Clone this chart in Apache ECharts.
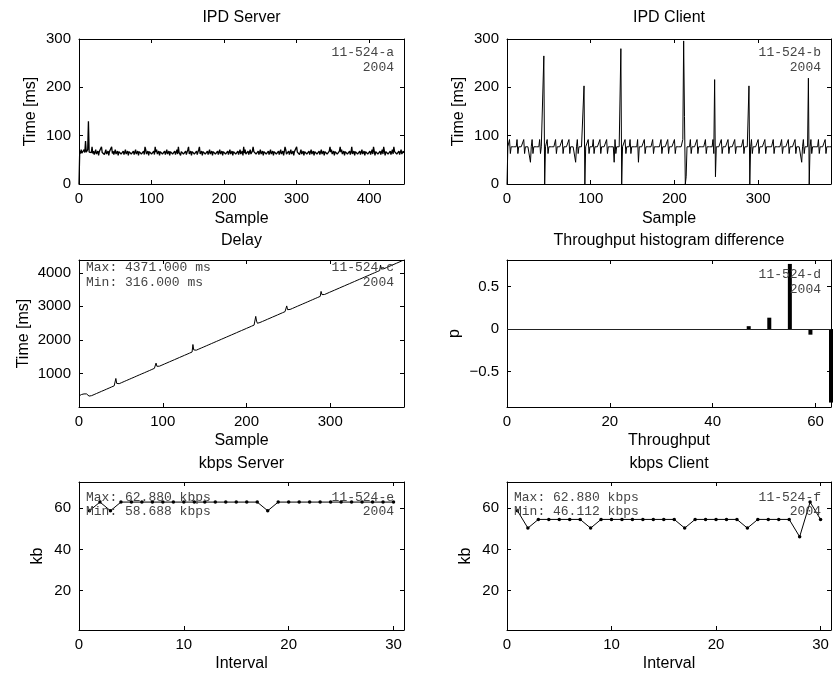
<!DOCTYPE html>
<html><head><meta charset="utf-8">
<script src="https://cdn.jsdelivr.net/npm/echarts@6/dist/echarts.min.js"></script>
<style>html,body{margin:0;padding:0;background:#fff}#c{width:835px;height:677px}</style>
</head><body><div id="c"></div>
<script>
// ---------- data ----------
const panelTitles = ['IPD Server', 'IPD Client', 'Delay', 'Throughput histogram difference', 'kbps Server', 'kbps Client'];
const panelIds = ['11-524-a', '11-524-b', '11-524-c', '11-524-d', '11-524-e', '11-524-f'];
const yearLabel = '2004';

const serverIPD = [
0,68,63,71,64,67,62,71,65,89,66,62,71,130,66,65,65,65,77,63,
68,61,66,71,62,65,68,59,67,64,71,77,65,63,68,61,66,71,62,65,
68,59,67,64,71,77,63,68,61,66,71,62,65,68,59,67,64,71,62,66,
63,68,61,66,71,62,65,68,59,67,64,71,62,66,63,68,61,66,71,62,
65,68,59,67,64,71,62,66,63,68,61,77,71,62,65,68,59,67,64,71,
62,66,63,68,61,77,66,71,62,65,68,59,67,64,71,62,66,63,68,61,
66,71,62,65,68,59,67,64,71,62,66,63,68,61,66,71,62,77,65,68,
59,67,64,71,62,66,63,68,61,66,71,77,62,65,68,59,67,64,71,62,
66,63,68,61,66,71,77,62,65,68,59,67,64,71,62,66,63,68,61,66,
71,62,65,68,59,67,64,71,62,66,63,68,61,66,71,62,65,68,59,67,
64,71,62,66,63,68,61,66,71,62,65,68,59,67,64,71,62,66,63,68,
61,66,71,62,65,68,59,77,64,71,62,66,63,68,61,66,71,62,65,68,
77,67,64,71,62,66,63,68,61,66,71,62,65,68,59,67,64,71,62,66,
63,68,61,66,71,62,65,68,59,67,64,71,62,66,63,68,61,66,71,62,
65,68,59,67,77,71,62,66,63,68,61,66,71,62,65,68,59,67,64,71,
77,66,63,68,61,66,71,62,65,68,59,67,64,71,62,66,63,68,61,66,
71,62,65,68,59,67,64,71,62,66,63,68,61,66,71,62,65,68,59,67,
64,71,62,66,63,68,77,66,71,62,65,68,59,67,64,71,62,66,63,68,
77,66,71,62,65,68,59,67,64,71,62,66,63,68,61,66,77,62,65,68,
59,67,64,71,62,66,63,68,61,66,71,62,65,68,59,67,64,71,62,66,
63,68,61,66,71,62,77,68,59,67,64,71,62,66,63,68,61,66,71,62,
77,68,59,67,64,71,62,66,63,68,61,66,71,62,77,67,64,71,62,66,
63,68,61,66,71,62,65,68,64];

const clientIPD = [
0,77,77,92,63,77,77,77,77,
77,77,77,92,63,77,77,77,77,
77,77,92,63,77,77,77,77,77,
77,45,77,92,63,77,77,77,77,
77,77,77,92,63,77,77,77,265,
0,77,77,92,63,77,77,77,77,
77,77,77,77,92,63,77,77,77,
77,77,77,92,63,77,77,77,77,
77,77,92,63,77,77,77,77,77,
77,45,77,92,63,77,77,77,77,
77,77,203,0,77,77,77,92,63,
77,77,77,77,92,63,77,77,77,
77,77,77,92,63,77,77,77,77,
77,77,92,63,77,77,77,77,77,
77,77,45,92,63,77,77,77,77,
77,280,0,77,77,77,92,63,77,
77,77,77,92,63,77,77,77,77,
77,77,77,92,45,77,77,77,77,
77,77,92,63,77,77,77,77,77,
77,77,77,92,63,77,77,77,77,
77,77,77,77,92,63,77,77,77,
77,77,77,92,63,77,77,77,77,
77,77,92,63,77,77,77,77,77,
77,77,77,92,296,140,0,15,77,
77,77,77,92,63,77,77,77,77,
77,77,92,63,77,77,77,77,77,
77,77,77,92,63,77,77,77,77,
77,77,77,92,63,216,15,77,77,
77,77,77,77,92,63,77,77,77,
77,77,77,92,63,77,77,77,77,
77,77,92,63,77,77,77,77,77,
77,77,77,92,63,77,77,77,77,
77,203,0,77,92,63,77,77,77,
77,77,77,92,63,77,77,77,77,
77,77,92,63,77,77,77,77,77,
77,77,77,92,63,77,77,77,77,
77,77,77,77,92,63,77,77,77,
77,77,77,92,63,77,77,77,77,
77,77,92,63,77,77,77,77,77,
77,45,77,92,63,77,77,77,77,
219,0,77,92,63,77,77,77,77,
77,77,77,92,63,77,77,77,77,
77,77,92,63,77,77,77,77,77,
77];

const delayMs = [
330,345,360,372,380,386,390,392,392,390,
370,345,325,316,327,338,349,359,370,381,
392,403,414,424,435,446,457,468,479,489,
500,511,522,533,544,554,565,576,587,598,
609,620,630,641,850,703,689,684,695,706,
717,728,739,750,760,771,782,793,804,815,
825,836,847,858,869,879,890,901,912,923,
934,945,956,966,977,988,999,1010,1020,1031,
1042,1053,1064,1075,1085,1096,1107,1118,1129,1140,
1151,1162,1308,1213,1202,1205,1216,1226,1237,1248,
1259,1270,1281,1291,1302,1313,1324,1335,1346,1356,
1367,1378,1389,1400,1411,1421,1432,1443,1454,1465,
1476,1487,1497,1508,1519,1530,1541,1552,1562,1573,
1584,1595,1606,1617,1627,1638,1862,1700,1676,1682,
1693,1704,1714,1725,1736,1747,1758,1769,1779,1790,
1801,1812,1823,1834,1844,1855,1866,1877,1888,1899,
1909,1920,1931,1942,1953,1964,1974,1985,1996,2007,
2018,2029,2039,2050,2061,2072,2083,2094,2104,2115,
2126,2137,2148,2159,2170,2180,2191,2202,2213,2224,
2235,2246,2256,2267,2278,2289,2300,2310,2321,2332,
2343,2354,2365,2375,2386,2397,2408,2419,2430,2440,
2451,2700,2560,2495,2497,2506,2517,2527,2538,2549,
2560,2571,2581,2592,2603,2614,2625,2635,2646,2657,
2668,2679,2690,2701,2711,2722,2733,2744,2755,2766,
2777,2788,2798,2809,2820,2831,2842,2852,3012,2900,
2888,2896,2907,2917,2928,2939,2950,2961,2972,2982,
2993,3004,3015,3026,3037,3048,3058,3069,3080,3091,
3102,3113,3124,3134,3145,3156,3167,3178,3188,3199,
3210,3221,3232,3243,3254,3264,3275,3286,3297,3444,
3350,3332,3340,3351,3362,3373,3383,3394,3405,3416,
3427,3438,3449,3459,3470,3481,3492,3503,3514,3524,
3535,3546,3557,3568,3579,3590,3600,3611,3622,3633,
3644,3655,3665,3676,3687,3698,3709,3720,3730,3741,
3752,3763,3774,3785,3796,3806,3817,3828,3839,3850,
3861,3872,3882,3893,3904,3915,3926,3936,3947,3958,
3969,3980,3991,4001,4012,4023,4034,4045,4056,4066,
4230,4110,4099,4110,4120,4131,4142,4153,4164,4174,
4186,4197,4207,4218,4229,4240,4251,4262,4272,4283,
4294,4305,4316,4327,4338,4349,4359,4371];

const histBins = [47, 51, 55, 59, 63];
const histDiff = [0.0333, 0.1333, 0.7667, -0.0667, -0.8667];

const intervals = [1,2,3,4,5,6,7,8,9,10,11,12,13,14,15,16,17,18,19,20,21,22,23,24,25,26,27,28,29,30];
const serverKbps = [58.688,62.88,58.688,62.88,62.88,62.88,62.88,62.88,62.88,62.88,62.88,62.88,62.88,62.88,62.88,62.88,62.88,58.688,62.88,62.88,62.88,62.88,62.88,62.88,62.88,62.88,62.88,62.88,62.88,62.88];
const clientKbps = [58.688,50.304,54.496,54.496,54.496,54.496,54.496,50.304,54.496,54.496,54.496,54.496,54.496,54.496,54.496,54.496,50.304,54.496,54.496,54.496,54.496,54.496,50.304,54.496,54.496,54.496,54.496,46.112,62.88,54.496];

// tick labels
const ipdServerXTicks = [0,100,200,300,400];
const ipdYTicks = [0,100,200,300];
const ipdClientXTicks = [0,100,200,300];
const delayXTicks = [0,100,200,300];
const delayYTicks = [1000,2000,3000,4000];
const histXTicks = [0,20,40,60];
const histYTicks = [-0.5,0,0.5];
const kbpsXTicks = [0,10,20,30];
const kbpsYTicks = [20,40,60];

// ---------- layout / style ----------
const FONT = '"Liberation Sans", Arial, Helvetica, sans-serif';
const MONO = '"Liberation Mono", "Courier New", monospace';
const LABEL_SIZE = 15;
const NAME_SIZE = 16;
const boxes = [
  {left:79, top:39, width:325, height:145},
  {left:507, top:39, width:324, height:145},
  {left:79, top:260, width:325, height:147},
  {left:507, top:260, width:324, height:147},
  {left:79, top:482, width:325, height:148},
  {left:507, top:482, width:324, height:148}
];

function tickFmt(list) {
  return function (v) {
    for (const t of list) {
      if (Math.abs(v - t) < 1e-9) return (t < 0 ? '\u2212' : '') + String(Math.abs(t));
    }
    return '';
  };
}
const lineBlack = {color:'#000', width:1};
function baseAxis(i, sc) {
  const a = {type:'value', gridIndex:i, min:sc.min, max:sc.max, splitLine:{show:false},
    axisLine:{show:true, onZero:false, lineStyle:lineBlack},
    axisTick:{show:true, inside:true, length:4, lineStyle:lineBlack}};
  if (sc.interval != null) a.interval = sc.interval;
  if (sc.splitNumber != null) a.splitNumber = sc.splitNumber;
  return a;
}
const xAxes = [], yAxes = [], grids = [];
function addPanel(i, xs, ys) {
  grids.push(boxes[i]);
  xAxes.push(Object.assign(baseAxis(i, xs), {position:'bottom', name:xs.name, nameLocation:'middle', nameGap:xs.gap,
    nameTextStyle:{color:'#000', fontSize:NAME_SIZE, fontFamily:FONT},
    axisLabel:{show:true, formatter:tickFmt(xs.ticks), color:'#000', fontSize:LABEL_SIZE, fontFamily:FONT, margin:7}}));
  xAxes.push(Object.assign(baseAxis(i, xs), {position:'top', axisLabel:{show:false}}));
  yAxes.push(Object.assign(baseAxis(i, ys), {position:'left', name:ys.name, nameLocation:'middle', nameGap:ys.gap,
    nameTextStyle:{color:'#000', fontSize:NAME_SIZE, fontFamily:FONT},
    axisLabel:{show:true, formatter:tickFmt(ys.ticks), color:'#000', fontSize:LABEL_SIZE, fontFamily:FONT, margin:8}}));
  yAxes.push(Object.assign(baseAxis(i, ys), {position:'right', axisLabel:{show:false}}));
}
addPanel(0, {min:0, max:448, interval:100, ticks:ipdServerXTicks, name:'Sample', gap:27},
            {min:0, max:300, interval:100, ticks:ipdYTicks, name:'Time [ms]', gap:40});
addPanel(1, {min:0, max:387, interval:100, ticks:ipdClientXTicks, name:'Sample', gap:27},
            {min:0, max:300, interval:100, ticks:ipdYTicks, name:'Time [ms]', gap:40});
addPanel(2, {min:0, max:388, interval:100, ticks:delayXTicks, name:'Sample', gap:26},
            {min:0, max:4380, interval:1000, ticks:delayYTicks, name:'Time [ms]', gap:47});
addPanel(3, {min:0, max:63, interval:20, ticks:histXTicks, name:'Throughput', gap:26},
            {min:-0.919, max:0.813, splitNumber:4, ticks:histYTicks, name:'p', gap:44});
addPanel(4, {min:0, max:31, interval:10, ticks:kbpsXTicks, name:'Interval', gap:26},
            {min:1, max:72.6, splitNumber:4, ticks:kbpsYTicks, name:'kb', gap:33});
addPanel(5, {min:0, max:31, interval:10, ticks:kbpsXTicks, name:'Interval', gap:26},
            {min:1, max:72.6, splitNumber:4, ticks:kbpsYTicks, name:'kb', gap:33});

const series = [
  {type:'line', xAxisIndex:0, yAxisIndex:0, data:serverIPD.map((v,k)=>[k,v]), showSymbol:false, lineStyle:{color:'#000', width:1.3}, silent:true},
  {type:'line', xAxisIndex:2, yAxisIndex:2, data:clientIPD.map((v,k)=>[k,v]), showSymbol:false, lineStyle:lineBlack, silent:true},
  {type:'line', xAxisIndex:4, yAxisIndex:4, data:delayMs.map((v,k)=>[k,v]), showSymbol:false, lineStyle:lineBlack, silent:true},
  {type:'bar', xAxisIndex:6, yAxisIndex:6, data:histBins.map((b,k)=>[b,histDiff[k]]), barWidth:4,
    itemStyle:{color:'#000'}, silent:true,
    markLine:{symbol:'none', silent:true, label:{show:false}, lineStyle:{color:'#222', type:'solid', width:1}, data:[{yAxis:0}]}},
  {type:'line', xAxisIndex:8, yAxisIndex:8, data:intervals.map((x,k)=>[x,serverKbps[k]]), symbol:'circle', symbolSize:3.5,
    itemStyle:{color:'#000'}, lineStyle:lineBlack, silent:true},
  {type:'line', xAxisIndex:10, yAxisIndex:10, data:intervals.map((x,k)=>[x,clientKbps[k]]), symbol:'circle', symbolSize:3.5,
    itemStyle:{color:'#000'}, lineStyle:lineBlack, silent:true}
];

// ---------- texts ----------
const graphics = [];
function txt(text, x, y, align, font, size, color) {
  graphics.push({type:'text', x:x, y:y, silent:true, z:100,
    style:{text:text, align:align, verticalAlign:'middle', fontSize:size, fontFamily:font, fill:color}});
}
const titleY = [18, 18, 241, 241, 464, 464];
boxes.forEach((b, i) => txt(panelTitles[i], b.left + b.width / 2, titleY[i], 'center', FONT, NAME_SIZE, '#000'));

const noteColor = '#444', noteSize = 13;
const idY = [[53, 68], [53, 68], [268, 283], [275, 290], [498, 512], [498, 512]];
boxes.forEach((b, i) => {
  const rx = b.left + b.width - 10;
  txt(panelIds[i], rx, idY[i][0], 'right', MONO, noteSize, noteColor);
  txt(yearLabel, rx, idY[i][1], 'right', MONO, noteSize, noteColor);
});
function maxMin(i, arr, unit) {
  const b = boxes[i];
  txt('Max: ' + Math.max(...arr).toFixed(3) + ' ' + unit, b.left + 7, idY[i][0], 'left', MONO, noteSize, noteColor);
  txt('Min: ' + Math.min(...arr).toFixed(3) + ' ' + unit, b.left + 7, idY[i][1], 'left', MONO, noteSize, noteColor);
}
maxMin(2, delayMs, 'ms');
maxMin(4, serverKbps, 'kbps');
maxMin(5, clientKbps, 'kbps');

const chart = echarts.init(document.getElementById('c'), null, {renderer:'canvas'});
chart.setOption({
  animation:false,
  backgroundColor:'#fff',
  grid:grids,
  xAxis:xAxes,
  yAxis:yAxes,
  series:series,
  graphic:graphics
});
</script>
</body></html>
